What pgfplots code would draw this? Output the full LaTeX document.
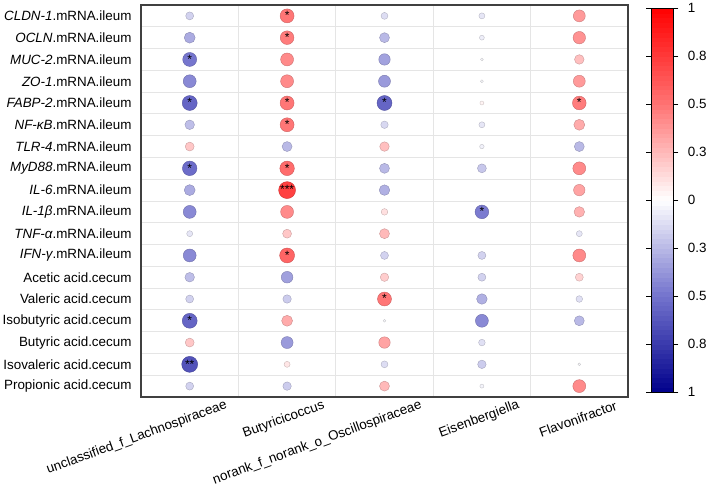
\documentclass[border=0pt]{standalone}
\usepackage{pgfplots}
\pgfplotsset{compat=1.18}
\usepackage{fontspec}
\setmainfont{Liberation Sans}
\newcommand{\lab}{\fontsize{13.4bp}{16bp}\selectfont}
\begin{document}
\begin{tikzpicture}
\begin{axis}[
  scale only axis, width=487bp, height=392bp,
  xmin=0.5, xmax=5.5, ymin=0.5, ymax=18.5, y dir=reverse,
  xtick={1,2,3,4,5},
  xticklabels={unclassified\_f\_Lachnospiraceae, Butyricicoccus, norank\_f\_norank\_o\_Oscillospiraceae, Eisenbergiella, Flavonifractor},
  ytick={1,2,...,18},
  yticklabels={{\itshape CLDN-1}.mRNA.ileum, {\itshape OCLN}.mRNA.ileum, {\itshape MUC-2}.mRNA.ileum, {\itshape ZO-1}.mRNA.ileum, {\itshape FABP-2}.mRNA.ileum, {\itshape NF-κB}.mRNA.ileum, {\itshape TLR-4}.mRNA.ileum, {\itshape MyD88}.mRNA.ileum, {\itshape IL-6}.mRNA.ileum, {\itshape IL-1β}.mRNA.ileum, {\itshape TNF-α}.mRNA.ileum, {\itshape IFN-γ}.mRNA.ileum, Acetic acid.cecum, Valeric acid.cecum, Isobutyric acid.cecum, Butyric acid.cecum, Isovaleric acid.cecum, Propionic acid.cecum},
  minor xtick={1.5,2.5,3.5,4.5},
  minor ytick={1.5,2.5,...,17.5},
  xminorgrids, yminorgrids,
  minor grid style={draw=black!10, line width=0.8bp},
  major tick length=0pt, minor tick length=0pt,
  axis line style={draw=black!75, line width=1.6bp},
  tick label style={font=\lab},
  xticklabel style={inner sep=0pt, xshift=37bp, yshift=-8bp, rotate=20, anchor=east},
  yticklabel style={xshift=-6bp},
  colormap={bwr}{rgb255=(0,0,139) rgb255=(115,115,205) rgb255=(255,255,255) rgb255=(255,115,115) rgb255=(255,0,0)},
  point meta min=-1, point meta max=1,
  colorbar, colorbar sampled,
  colorbar style={
    width=22bp, height=384bp,
    xshift=14bp, yshift=-3bp,
    samples=81,
    ytick={-1,-0.75,-0.5,-0.25,0,0.25,0.5,0.75,1},
    yticklabels={1,0.8,0.5,0.3,0,0.3,0.5,0.8,1},
    axis line style={draw=black, line width=0.8bp},
    major tick length=5bp, tick align=outside,
    tick style={draw=black, line width=0.8bp},
    yticklabel style={font=\lab, xshift=6bp},
  },
]
\coordinate (bl) at (axis cs:0.5,18.5);
\addplot[scatter, only marks, mark=*, point meta=explicit,
  visualization depends on={abs(\thisrow{v}) \as \rr},
  scatter/@pre marker code/.append style={/tikz/mark size={10*sqrt(\rr)}}]
  table[x=x, y=y, meta=v] {
x y v
1 1 -0.16
1 2 -0.30
1 3 -0.49
1 4 -0.42
1 5 -0.56
1 6 -0.23
1 7 0.20
1 8 -0.53
1 9 -0.30
1 10 -0.42
1 11 -0.09
1 12 -0.42
1 13 -0.23
1 14 -0.16
1 15 -0.56
1 16 0.20
1 17 -0.64
1 18 -0.16
2 1 0.49
2 2 0.47
2 3 0.42
2 4 0.42
2 5 0.49
2 6 0.49
2 7 -0.25
2 8 0.53
2 9 0.72
2 10 0.42
2 11 0.20
2 12 0.56
2 13 -0.34
2 14 -0.18
2 15 0.30
2 16 -0.36
2 17 0.09
2 18 -0.18
3 1 -0.12
3 2 -0.25
3 3 -0.33
3 4 -0.36
3 5 -0.56
3 6 -0.14
3 7 0.23
3 8 -0.25
3 9 -0.28
3 10 0.11
3 11 0.25
3 12 -0.16
3 13 0.18
3 14 0.49
3 15 -0.02
3 16 0.33
3 17 -0.12
3 18 0.25
4 1 -0.09
4 2 -0.06
4 3 -0.02
4 4 -0.02
4 5 0.04
4 6 -0.09
4 7 -0.05
4 8 -0.20
4 10 -0.47
4 12 -0.16
4 13 -0.16
4 14 -0.28
4 15 -0.42
4 16 -0.11
4 17 -0.18
4 18 -0.04
5 1 0.36
5 2 0.39
5 3 0.23
5 4 0.36
5 5 0.47
5 6 0.30
5 7 -0.25
5 8 0.42
5 9 0.33
5 10 0.28
5 11 -0.09
5 12 0.42
5 13 0.16
5 14 -0.11
5 15 -0.25
5 17 -0.02
5 18 0.42
};
\addplot[only marks, mark=none, nodes near coords, point meta=explicit symbolic,
  nodes near coords style={anchor=base, yshift=-3.8bp, inner sep=0pt, font=\fontsize{12bp}{14bp}\selectfont, text=black}]
  table[x=x, y=y, meta=s] {
x y s
1 3 *
1 5 *
1 8 *
1 15 *
1 17 **
2 1 *
2 2 *
2 5 *
2 6 *
2 8 *
2 9 ***
2 12 *
3 5 *
3 14 *
4 10 *
5 5 *
};
\end{axis}
\pgfresetboundingbox
\path[use as bounding box] ([xshift=-141bp,yshift=-88bp]bl) rectangle ([xshift=567bp,yshift=397bp]bl);
\end{tikzpicture}
\end{document}
